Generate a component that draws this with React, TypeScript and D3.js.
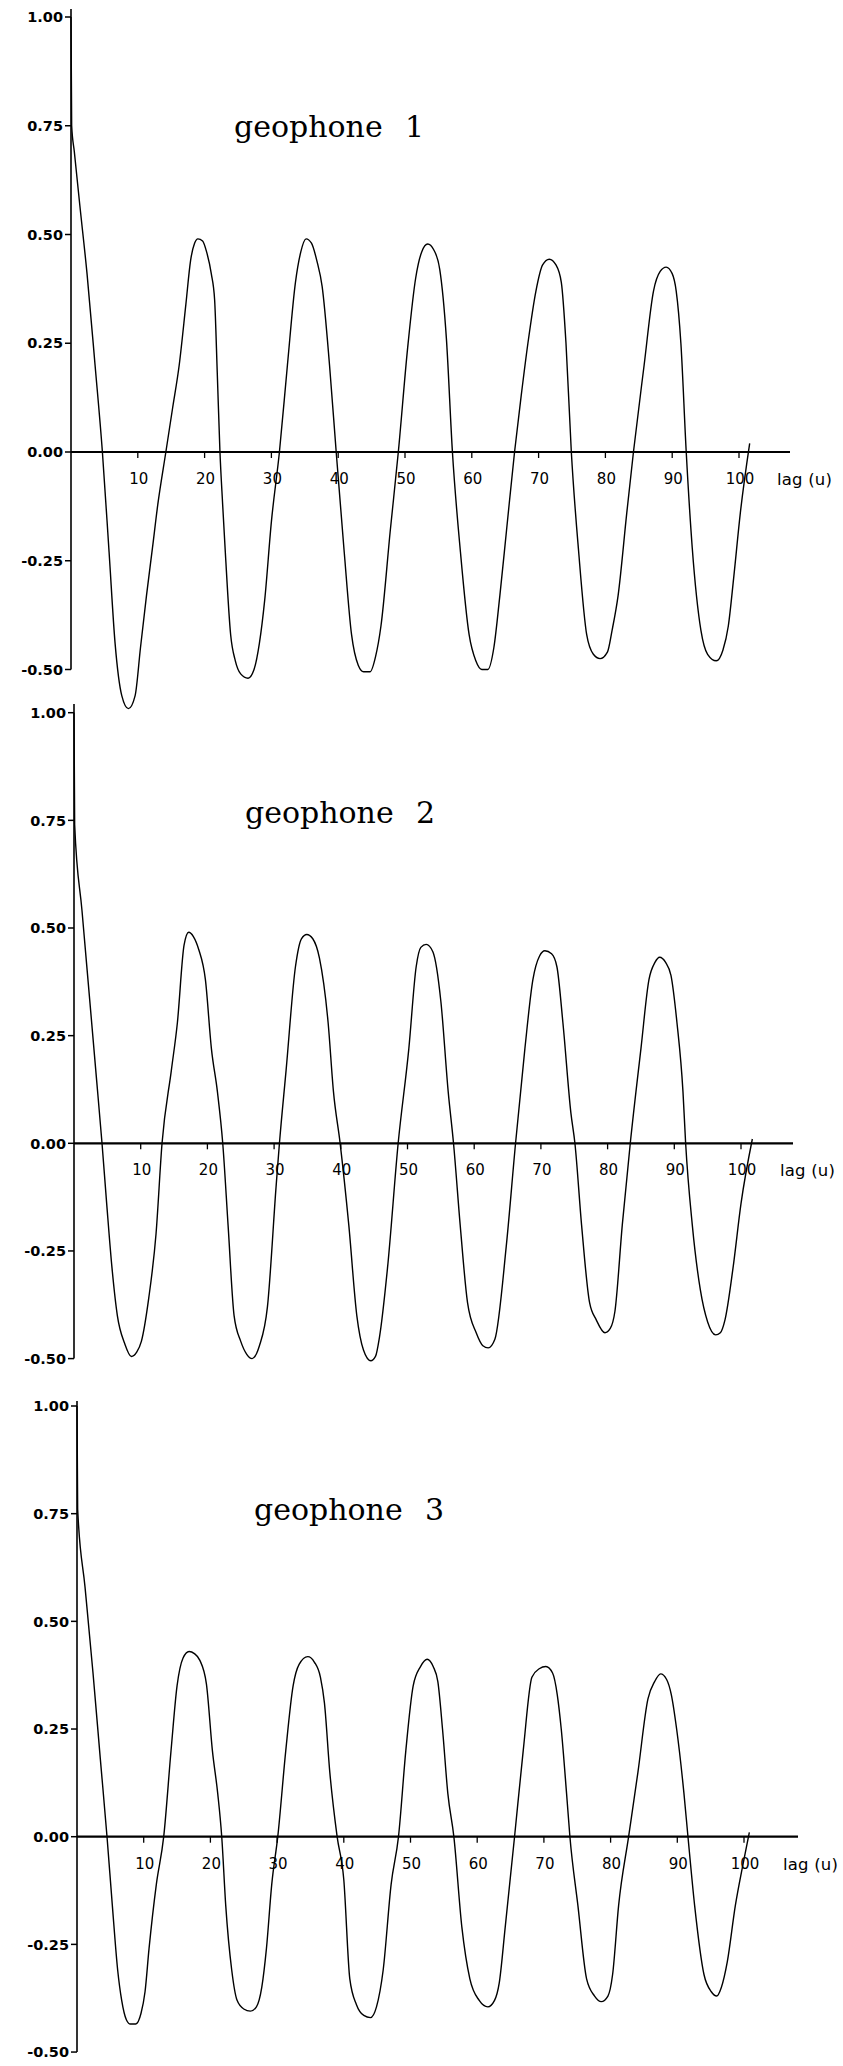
import React from 'react';
import * as d3 from 'd3';

// Autocorrelation r(u) against lag u.
const geophone1: [number, number][] = [
  [0, 1.0], [0.1, 0.75], [0.5, 0.69], [1.3, 0.57], [2.4, 0.41], [3.6, 0.2], [4.7, 0.0],
  [5.7, -0.23], [6.6, -0.44], [7.6, -0.56], [8.6, -0.59], [9.6, -0.56], [10.4, -0.45],
  [11.3, -0.33], [12.2, -0.22], [13.0, -0.12], [14.2, 0.0], [15.2, 0.1], [16.2, 0.2],
  [17.2, 0.34], [17.9, 0.44], [18.5, 0.48], [19.0, 0.49], [19.7, 0.485], [20.3, 0.46],
  [21.0, 0.41], [21.5, 0.35], [21.9, 0.18], [22.3, 0.0], [22.7, -0.12], [23.1, -0.23],
  [23.9, -0.42], [24.6, -0.48], [25.4, -0.51], [26.5, -0.52], [27.4, -0.5], [28.2, -0.44],
  [29.0, -0.34], [30.0, -0.16], [31.2, 0.0], [32.4, 0.2], [33.6, 0.39], [34.4, 0.46],
  [35.2, 0.49], [36.0, 0.48], [36.8, 0.44], [37.6, 0.38], [38.7, 0.2], [39.7, 0.0],
  [40.9, -0.23], [42.0, -0.42], [43.0, -0.49], [43.8, -0.505], [44.8, -0.505], [45.6, -0.47],
  [46.4, -0.4], [47.8, -0.18], [49.0, 0.0], [50.4, 0.24], [51.6, 0.4], [52.5, 0.46],
  [53.4, 0.478], [54.3, 0.465], [55.2, 0.42], [56.2, 0.26], [57.1, 0.0], [58.3, -0.23],
  [59.6, -0.42], [60.6, -0.48], [61.5, -0.5], [62.4, -0.5], [63.3, -0.45], [64.2, -0.33],
  [65.2, -0.18], [66.4, 0.0], [67.4, 0.13], [68.4, 0.25], [69.6, 0.37], [70.6, 0.43],
  [71.6, 0.443], [72.6, 0.43], [73.4, 0.39], [74.1, 0.25], [74.9, 0.0], [76.0, -0.23],
  [77.2, -0.42], [78.2, -0.465], [79.2, -0.475], [80.3, -0.46], [81.0, -0.41], [81.9, -0.33],
  [83.2, -0.14], [84.2, 0.0], [85.8, 0.2], [87.2, 0.37], [88.2, 0.415], [89.1, 0.425],
  [90.0, 0.41], [90.6, 0.37], [91.3, 0.25], [92.1, 0.0], [93.0, -0.22], [94.3, -0.41],
  [95.3, -0.465], [96.6, -0.48], [97.6, -0.455], [98.4, -0.4], [99.2, -0.29], [100.2, -0.14],
  [101.6, 0.02],
];

const geophone2: [number, number][] = [
  [0, 1.0], [0.1, 0.74], [1.2, 0.54], [2.4, 0.325], [3.4, 0.145], [4.2, 0.0], [4.9, -0.14],
  [5.7, -0.29], [6.5, -0.4], [7.6, -0.465], [8.6, -0.495], [9.4, -0.485], [10.1, -0.46],
  [11.2, -0.36], [12.3, -0.21], [13.2, 0.0], [14.6, 0.17], [15.5, 0.28], [16.5, 0.46],
  [17.2, 0.49], [17.9, 0.48], [18.7, 0.45], [19.7, 0.38], [20.6, 0.22], [21.5, 0.12],
  [22.3, 0.0], [23.1, -0.19], [24.0, -0.4], [25.0, -0.46], [25.9, -0.49], [26.7, -0.5],
  [27.8, -0.47], [29.0, -0.38], [30.3, -0.1], [30.8, 0.0], [31.8, 0.17], [33.2, 0.41],
  [34.1, 0.475], [34.9, 0.485], [35.8, 0.475], [36.8, 0.43], [38.1, 0.28], [38.9, 0.12],
  [39.9, 0.0], [41.2, -0.19], [42.4, -0.4], [43.4, -0.48], [44.5, -0.505], [45.2, -0.495],
  [45.8, -0.45], [47.0, -0.29], [48.6, 0.0], [50.2, 0.22], [51.3, 0.41], [52.0, 0.455],
  [52.8, 0.462], [53.8, 0.445], [55.0, 0.33], [56.1, 0.12], [56.9, 0.0], [57.9, -0.19],
  [59.0, -0.37], [60.3, -0.44], [61.3, -0.47], [62.1, -0.475], [63.1, -0.455], [64.8, -0.24],
  [66.2, 0.0], [67.6, 0.22], [68.8, 0.38], [69.8, 0.435], [70.6, 0.447], [71.6, 0.44],
  [72.4, 0.41], [73.3, 0.28], [74.5, 0.07], [75.1, 0.0], [76.1, -0.19], [77.3, -0.37],
  [78.3, -0.41], [79.6, -0.44], [80.4, -0.43], [81.1, -0.39], [82.2, -0.19], [83.4, 0.0],
  [85.0, 0.22], [86.2, 0.38], [87.1, 0.42], [87.8, 0.432], [88.7, 0.42], [89.5, 0.39],
  [90.4, 0.28], [91.3, 0.12], [91.7, 0.0], [92.7, -0.19], [93.9, -0.34], [95.0, -0.415],
  [96.2, -0.445], [96.9, -0.44], [97.6, -0.41], [98.8, -0.29], [100.0, -0.14], [101.7, 0.01],
];

const geophone3: [number, number][] = [
  [0, 1.0], [0.1, 0.76], [1.2, 0.58], [2.4, 0.38], [3.5, 0.18], [4.5, 0.0], [5.3, -0.16],
  [6.1, -0.31], [6.7, -0.38], [7.4, -0.425], [8.0, -0.435],
  [8.8, -0.435], [9.6, -0.41], [10.2, -0.36], [10.8, -0.26], [11.9, -0.11], [13.0, 0.0],
  [14.1, 0.2], [15.0, 0.35], [15.9, 0.415], [16.8, 0.43], [17.6, 0.425], [18.4, 0.41],
  [19.4, 0.355], [20.3, 0.2], [21.1, 0.1], [21.7, 0.0], [22.3, -0.16], [23.2, -0.31],
  [24.0, -0.38], [25.0, -0.4], [26.0, -0.405], [26.9, -0.395], [27.7, -0.35], [28.4, -0.26],
  [29.2, -0.11], [30.1, 0.0], [31.3, 0.2], [32.4, 0.35], [33.3, 0.4], [34.6, 0.418],
  [35.6, 0.405], [36.5, 0.37], [37.1, 0.31], [37.9, 0.15], [39.0, 0.0], [40.0, -0.1],
  [40.9, -0.33], [41.9, -0.39], [43.0, -0.415], [44.0, -0.42], [44.9, -0.395], [45.9, -0.31],
  [47.1, -0.11], [48.2, 0.0], [49.3, 0.2], [50.4, 0.35], [51.5, 0.395], [52.5, 0.412],
  [53.4, 0.395], [54.1, 0.36], [54.8, 0.25], [55.6, 0.1], [56.5, 0.0], [57.7, -0.21],
  [58.9, -0.33], [60.3, -0.38], [61.6, -0.395], [62.6, -0.38], [63.3, -0.34], [64.2, -0.21],
  [65.6, 0.0], [66.9, 0.2], [68.2, 0.37], [69.3, 0.39], [70.3, 0.395], [71.3, 0.38],
  [72.0, 0.33], [72.6, 0.25], [73.4, 0.1], [73.9, 0.0], [75.1, -0.16], [76.4, -0.33],
  [77.6, -0.37], [78.6, -0.383], [79.6, -0.37], [80.3, -0.32], [81.2, -0.16], [82.7, 0.0],
  [84.1, 0.15], [85.6, 0.32], [86.6, 0.36], [87.5, 0.378], [88.4, 0.365], [89.1, 0.33],
  [89.9, 0.25], [91.0, 0.1], [91.6, 0.0], [92.6, -0.16], [94.0, -0.32], [95.1, -0.36],
  [95.9, -0.37], [96.6, -0.35], [97.5, -0.29], [98.7, -0.16], [99.9, -0.06], [100.8, 0.01],
];

const series = [geophone1, geophone2, geophone3];
const panelNames = ['geophone', 'geophone', 'geophone'];
const panelNumbers = ['1', '2', '3'];
const yTicks = [1.0, 0.75, 0.5, 0.25, 0.0, -0.25, -0.5];
const xTicks = [10, 20, 30, 40, 50, 60, 70, 80, 90, 100];
const xAxisLabel = 'lag (u)';

// Pixel frame of each stacked panel.
const frames = [
  { x0: 71, x100: 739, y1: 17, y0: 452, top: 9, right: 790, tx: 234, ty: 137 },
  { x0: 74, x100: 741, y1: 712.7, y0: 1143.3, top: 704, right: 793, tx: 245, ty: 823 },
  { x0: 77, x100: 744, y1: 1406, y0: 1836.7, top: 1401, right: 798, tx: 254, ty: 1520 },
];

const SANS = '"DejaVu Sans", sans-serif';
const SERIF = '"DejaVu Serif", serif';

function Panel({ data, frame, name, num }: { data: [number, number][]; frame: typeof frames[0]; name: string; num: string }) {
  const x = d3.scaleLinear().domain([0, 100]).range([frame.x0, frame.x100]);
  const y = d3.scaleLinear().domain([0, 1]).range([frame.y0, frame.y1]);
  const line = d3
    .line<[number, number]>()
    .x((d) => x(d[0]))
    .y((d) => y(d[1]))
    .curve(d3.curveMonotoneX);
  const yBottom = y(-0.5);
  return (
    <g>
      {/* y axis */}
      <line x1={x(0)} x2={x(0)} y1={frame.top} y2={yBottom} stroke="#000" strokeWidth={1.6} />
      {yTicks.map((t) => (
        <g key={t}>
          <line x1={x(0) - 6} x2={x(0)} y1={y(t)} y2={y(t)} stroke="#000" strokeWidth={1.5} />
          <text
            x={x(0) - 8}
            y={y(t)}
            dy="0.36em"
            textAnchor="end"
            fontFamily={SANS}
            fontWeight="bold"
            fontSize={14.5}
          >
            {t.toFixed(2)}
          </text>
        </g>
      ))}
      {/* x axis */}
      <line x1={x(0)} x2={frame.right} y1={y(0)} y2={y(0)} stroke="#000" strokeWidth={2.2} />
      {xTicks.map((t) => (
        <g key={t}>
          <line x1={x(t)} x2={x(t)} y1={y(0)} y2={y(0) + 6} stroke="#000" strokeWidth={1.3} />
          <text x={x(t) + 1} y={y(0) + 32} textAnchor="middle" fontFamily={SANS} fontSize={15}>
            {t}
          </text>
        </g>
      ))}
      <text x={x(0) + 706} y={y(0) + 33} fontFamily={SANS} fontSize={16.5} letterSpacing={0.2}>
        {xAxisLabel}
      </text>
      {/* title */}
      <text x={frame.tx} y={frame.ty} fontFamily={SERIF} fontSize={30}>
        {name}
      </text>
      <text x={frame.tx + 171} y={frame.ty} fontFamily={SERIF} fontSize={30}>
        {num}
      </text>
      {/* correlogram */}
      <path d={line(data) || ''} fill="none" stroke="#000" strokeWidth={1.4} strokeLinejoin="round" />
    </g>
  );
}

export default function App() {
  return (
    <div style={{ position: 'absolute', left: 0, top: 0 }}>
      <svg width={843} height={2066} viewBox="0 0 843 2066" style={{ display: 'block', background: '#fff' }}>
        {series.map((data, i) => (
          <Panel key={i} data={data} frame={frames[i]} name={panelNames[i]} num={panelNumbers[i]} />
        ))}
      </svg>
    </div>
  );
}
